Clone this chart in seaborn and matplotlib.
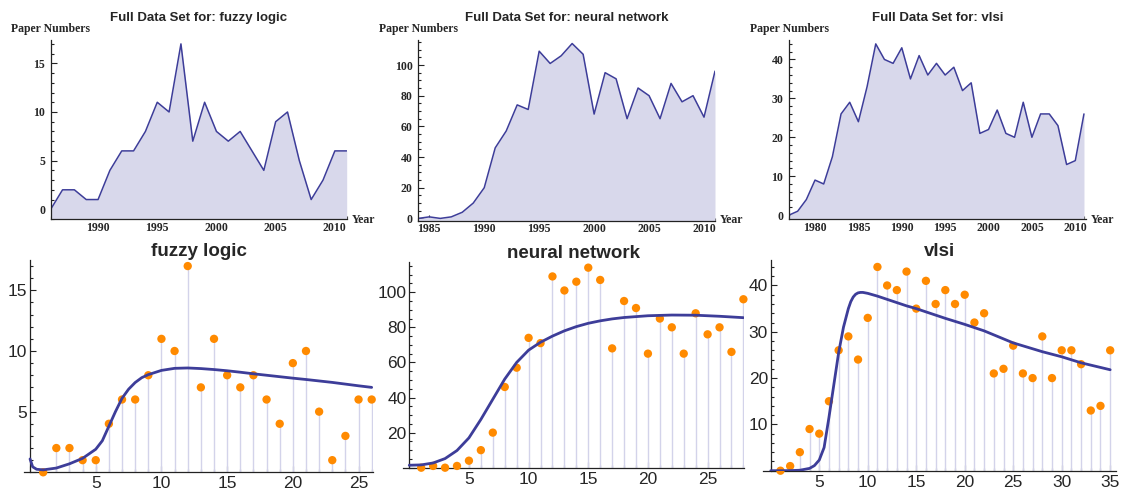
import numpy as np
import pandas as pd
import matplotlib
matplotlib.use("Agg")
import matplotlib.pyplot as plt
import seaborn as sns
from matplotlib.ticker import MultipleLocator, FuncFormatter

sns.set_style("ticks")
plt.rcParams["font.family"] = ["Liberation Sans", "DejaVu Sans"]

# ---- yearly paper counts -------------------------------------------------
fuzzy_years = list(range(1986, 2012))
fuzzy_counts = [0, 2, 2, 1, 1, 4, 6, 6, 8, 11, 10, 17, 7, 11, 8, 7, 8, 6, 4, 9,
                10, 5, 1, 3, 6, 6]

nn_years = list(range(1984, 2012))
nn_counts = [0, 1, 0, 1, 4, 10, 20, 46, 57, 74, 71, 109, 101, 106, 114, 107, 68,
             95, 91, 65, 85, 80, 65, 88, 76, 80, 66, 96]

vlsi_years = list(range(1977, 2012))
vlsi_counts = [0, 1, 4, 9, 8, 15, 26, 29, 24, 33, 44, 40, 39, 43, 35, 41, 36, 39,
               36, 38, 32, 34, 21, 22, 27, 21, 20, 29, 20, 26, 26, 23, 13, 14, 26]

# ---- fitted model curves (years since first publication) ----------------
fuzzy_fit_t = [0, 0.2, 0.5, 1, 2, 3, 4, 5, 5.5, 6, 6.5, 7, 7.5, 8, 8.5, 9, 10,
               11, 12, 13, 14, 15, 16, 17, 18, 19, 20, 21, 22, 23, 24, 25, 26]
fuzzy_fit_v = [1.1, 0.45, 0.25, 0.2, 0.35, 0.7, 1.15, 1.9, 2.6, 3.8, 5.0, 6.1,
               6.85, 7.4, 7.8, 8.05, 8.4, 8.57, 8.6, 8.55, 8.47, 8.37, 8.25,
               8.12, 8.0, 7.88, 7.76, 7.65, 7.53, 7.41, 7.27, 7.13, 7.0]

nn_fit_t = [0, 1, 2, 3, 4, 5, 6, 7, 8, 9, 10, 11, 12, 13, 14, 15, 16, 17, 18,
            20, 22, 24, 26, 28]
nn_fit_v = [1.4, 1.6, 2.7, 5.2, 9.8, 17.0, 27.5, 39.0, 50.5, 60.0, 67.0, 71.5,
            75.0, 78.0, 80.4, 82.3, 83.7, 84.8, 85.6, 86.6, 87.0, 86.9, 86.3,
            85.5]

vlsi_fit_t = [0, 1, 2, 3, 4, 4.5, 5, 5.5, 6, 6.5, 7, 7.5, 8, 8.25, 8.5, 8.75,
              9, 9.25, 9.5, 10, 11, 12, 13, 14, 15, 16, 17, 18, 20, 22, 25, 28,
              30, 32, 35]
vlsi_fit_v = [0, 0, 0.02, 0.1, 0.5, 1.1, 2.3, 5.0, 11.5, 18.5, 25.5, 31.0,
              35.0, 36.5, 37.5, 38.1, 38.4, 38.5, 38.5, 38.3, 37.7, 37.0, 36.3,
              35.6, 35.0, 34.3, 33.6, 32.9, 31.6, 30.2, 27.6, 25.7, 24.6, 23.3,
              21.8]

topics = ["fuzzy logic", "neural network", "vlsi"]

# ---- styling ------------------------------------------------------------
LINE = "#3D3D99"
FILL = "#D8D8EB"
STEM = "#D3D3EA"
ORANGE = "#FF8A00"
AXIS = "#222222"

W, H = 1125, 490
fig = plt.figure(figsize=(W / 100, H / 100), dpi=100)


def rect(left, right, top, bottom):
    return [left / W, 1 - bottom / H, (right - left) / W, (bottom - top) / H]


def style_axes(ax):
    sns.despine(ax=ax)
    for s in ("left", "bottom"):
        ax.spines[s].set_color(AXIS)
        ax.spines[s].set_linewidth(0.9)
    ax.set_xlabel("")
    ax.set_ylabel("")


def top_panel(box, years, counts, topic, xlim, ylim, ymaj, ymin):
    left, right, top, bottom = box
    ax = fig.add_axes(rect(*box))
    df = pd.DataFrame({"Year": years, "Papers": counts})
    ax.fill_between(df["Year"], df["Papers"], ylim[0], color=FILL, lw=0)
    sns.lineplot(data=df, x="Year", y="Papers", ax=ax, color=LINE, lw=1.1,
                 estimator=None, sort=False)
    ax.set_xlim(*xlim)
    ax.set_ylim(*ylim)
    style_axes(ax)
    ax.xaxis.set_major_locator(MultipleLocator(5))
    ax.xaxis.set_minor_locator(MultipleLocator(1))
    ax.yaxis.set_major_locator(MultipleLocator(ymaj))
    ax.yaxis.set_minor_locator(MultipleLocator(ymin))
    ax.tick_params(which="both", direction="in", color=AXIS, width=0.8)
    ax.tick_params(which="major", length=4)
    ax.tick_params(which="minor", length=2)
    ax.tick_params(axis="x", pad=2)
    ax.tick_params(axis="y", pad=4)
    plt.setp(ax.get_xticklabels() + ax.get_yticklabels(),
             family="Liberation Serif", weight="bold", fontsize=8.5)
    ax.set_title(f"Full Data Set for: {topic}", fontsize=9.5, weight="bold",
                 pad=14)
    fig.text(left / W, 1 - 29 / H, "Paper Numbers", ha="center", va="center",
             family="Liberation Serif", weight="bold", fontsize=8.5)
    fig.text((right + 5) / W, 1 - 220 / H, "Year", ha="left", va="center",
             family="Liberation Serif", weight="bold", fontsize=8.5)
    return ax


def no_zero(v, pos):
    return "" if abs(v) < 1e-9 else f"{v:g}"


def fit_panel(box, counts, fit_t, fit_v, topic, xlim, ylim, ymaj, ymin):
    ax = fig.add_axes(rect(*box))
    t = np.arange(1, len(counts) + 1)
    ax.vlines(t, 0, counts, color=STEM, lw=1.0, zorder=1)
    sns.scatterplot(x=t, y=counts, ax=ax, color=ORANGE, s=36, edgecolor="none",
                    zorder=3, clip_on=False)
    sns.lineplot(x=fit_t, y=fit_v, ax=ax, color=LINE, lw=2.0, zorder=4,
                 estimator=None, sort=False)
    ax.set_xlim(*xlim)
    ax.set_ylim(*ylim)
    style_axes(ax)
    ax.spines["left"].set_position(("data", 0))
    ax.xaxis.set_major_locator(MultipleLocator(5))
    ax.xaxis.set_minor_locator(MultipleLocator(1))
    ax.yaxis.set_major_locator(MultipleLocator(ymaj))
    ax.yaxis.set_minor_locator(MultipleLocator(ymin))
    ax.xaxis.set_major_formatter(FuncFormatter(no_zero))
    ax.yaxis.set_major_formatter(FuncFormatter(no_zero))
    ax.tick_params(which="both", direction="in", color=AXIS, width=0.8,
                   labelsize=12.5)
    ax.tick_params(which="major", length=4.5)
    ax.tick_params(which="minor", length=2.5)
    ax.tick_params(axis="x", pad=3)
    ax.tick_params(axis="y", pad=2)
    ax.set_title(topic, fontsize=13.5, weight="bold", pad=3)
    return ax


top_panel((50.7, 346.7, 40, 219), fuzzy_years, fuzzy_counts, topics[0],
          (1986, 2011), (-1.0, 17.4), 5, 1)
top_panel((418.3, 715, 40, 220.7), nn_years, nn_counts, topics[1],
          (1984, 2011), (-1.5, 116.3), 20, 5)
top_panel((789, 1085.7, 40, 219), vlsi_years, vlsi_counts, topics[2],
          (1977, 2011.2), (-1.0, 45), 10, 2)

fit_panel((24, 373, 260, 472.3), fuzzy_counts, fuzzy_fit_t, fuzzy_fit_v,
          topics[0], (-0.46, 26.1), (0, 17.5), 5, 1)
fit_panel((402.7, 744, 261.7, 467.7), nn_counts, nn_fit_t, nn_fit_v,
          topics[1], (-0.55, 28.05), (0, 117.4), 20, 5)
fit_panel((763, 1116, 260, 470.7), vlsi_counts, vlsi_fit_t, vlsi_fit_v,
          topics[2], (-0.8, 35.6), (0, 45.5), 10, 2)

fig.savefig("out.png", dpi=100)
